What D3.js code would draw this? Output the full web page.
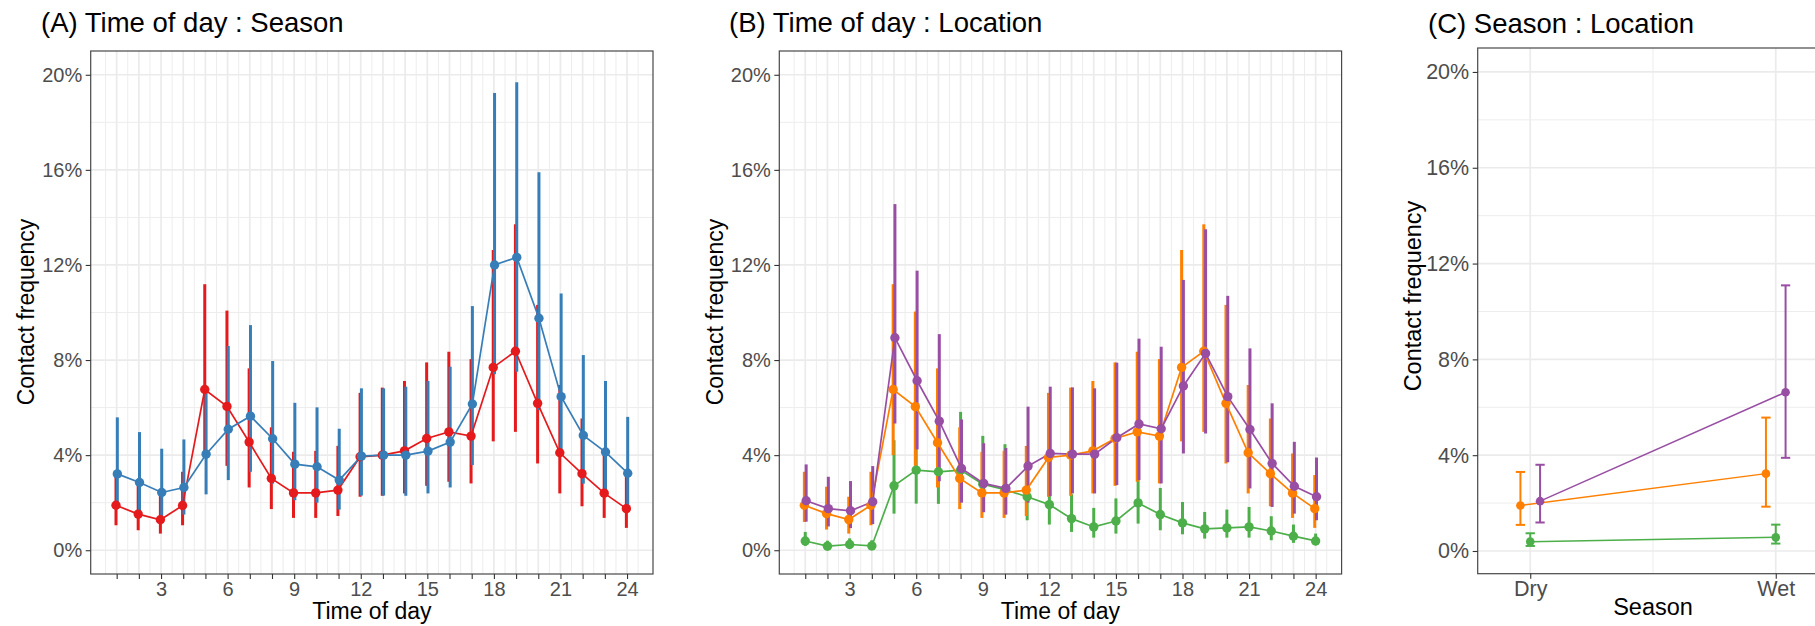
<!DOCTYPE html>
<html>
<head>
<meta charset="utf-8">
<title>Contact frequency by time of day, season and location</title>
<script src="https://cdn.jsdelivr.net/npm/d3@7/dist/d3.min.js"></script>
<style>
  body { margin: 0; background: #fff; }
  svg { display: block; font-family: "Liberation Sans", Arial, Helvetica, sans-serif; }
  .axis .domain { display: none; }
  .axis .tick line { stroke: #333; stroke-width: 1.1; }
  .axis .tick text { fill: #4d4d4d; }
</style>
</head>
<body>
<svg id="chart" width="1815" height="626"></svg>
<script>
// ---- data (percent) ----
const hours = [1, 2, 3, 4, 5, 6, 7, 8, 9, 10, 11, 12, 13, 14, 15, 16, 17, 18, 19, 20, 21, 22, 23, 24];
const hourLabels = ["", "", "3", "", "", "6", "", "", "9", "", "", "12", "", "", "15", "", "", "18", "", "", "21", "", "", "24"];
const yTicks = [0, 4, 8, 12, 16, 20];
const yTickLabels = ["0%", "4%", "8%", "12%", "16%", "20%"];

// (A) season, red = dry, blue = wet
const dryMean = [1.89, 1.52, 1.28, 1.88, 6.76, 6.05, 4.55, 3.02, 2.41, 2.41, 2.53, 3.93, 4.00, 4.18, 4.70, 4.98, 4.80, 7.69, 8.37, 6.18, 4.10, 3.22, 2.40, 1.75];
const dryLow = [1.05, 0.84, 0.70, 1.05, 4.00, 3.55, 2.64, 1.73, 1.36, 1.36, 1.44, 2.25, 2.29, 2.39, 2.71, 2.88, 2.81, 4.58, 4.98, 3.65, 2.39, 1.85, 1.36, 0.94];
const dryHigh = [3.26, 2.72, 2.30, 3.30, 11.19, 10.08, 7.65, 5.17, 4.14, 4.18, 4.39, 6.62, 6.84, 7.12, 7.90, 8.35, 8.04, 12.63, 13.71, 10.32, 6.95, 5.54, 4.07, 3.16];
const wetMean = [3.21, 2.85, 2.43, 2.64, 4.04, 5.09, 5.64, 4.69, 3.62, 3.51, 2.95, 3.96, 4.00, 4.00, 4.17, 4.55, 6.15, 12.00, 12.32, 9.76, 6.46, 4.83, 4.13, 3.24];
const wetLow = [1.80, 1.60, 1.35, 1.50, 2.35, 2.95, 3.30, 2.80, 2.10, 2.00, 1.71, 2.30, 2.30, 2.29, 2.39, 2.64, 3.58, 7.40, 7.51, 5.90, 4.00, 2.80, 2.30, 1.85];
const wetHigh = [5.59, 4.97, 4.27, 4.66, 6.80, 8.59, 9.47, 7.96, 6.20, 6.01, 5.11, 6.81, 6.81, 6.88, 7.12, 7.72, 10.27, 19.23, 19.69, 15.90, 10.80, 8.21, 7.12, 5.61];

// (B) location
const orangeMean = [1.89, 1.54, 1.29, 1.89, 6.76, 6.04, 4.52, 3.02, 2.41, 2.41, 2.53, 3.90, 4.00, 4.18, 4.70, 4.98, 4.80, 7.69, 8.37, 6.18, 4.10, 3.22, 2.40, 1.75];
const orangeLow = [1.19, 0.87, 0.70, 1.05, 4.00, 3.55, 2.64, 1.73, 1.36, 1.36, 1.44, 2.25, 2.29, 2.39, 2.71, 2.88, 2.81, 4.58, 4.98, 3.65, 2.39, 1.85, 1.36, 0.94];
const orangeHigh = [3.30, 2.67, 2.25, 3.30, 11.19, 10.04, 7.65, 5.17, 4.14, 4.18, 4.39, 6.62, 6.84, 7.12, 7.90, 8.35, 8.04, 12.63, 13.71, 10.32, 6.95, 5.54, 4.07, 3.16];
const greenMean = [0.39, 0.17, 0.24, 0.18, 2.71, 3.37, 3.30, 3.37, 2.78, 2.55, 2.25, 1.92, 1.33, 0.98, 1.23, 1.99, 1.50, 1.15, 0.90, 0.94, 0.98, 0.81, 0.59, 0.39];
const greenLow = [0.18, 0.06, 0.09, 0.07, 1.54, 1.96, 1.95, 2.03, 1.60, 1.50, 1.26, 1.08, 0.77, 0.53, 0.70, 1.12, 0.84, 0.67, 0.49, 0.53, 0.53, 0.42, 0.31, 0.21];
const greenHigh = [0.77, 0.40, 0.50, 0.42, 4.63, 4.30, 4.30, 5.82, 4.81, 4.46, 3.50, 3.24, 2.36, 1.78, 2.18, 3.40, 2.62, 2.03, 1.61, 1.71, 1.82, 1.43, 1.08, 0.70];
const purpleMean = [2.08, 1.75, 1.66, 2.04, 8.94, 7.13, 5.43, 3.44, 2.81, 2.60, 3.54, 4.07, 4.04, 4.04, 4.73, 5.31, 5.11, 6.91, 8.28, 6.46, 5.08, 3.65, 2.69, 2.25];
const purpleLow = [1.20, 1.00, 0.93, 1.10, 5.33, 4.24, 2.90, 2.00, 1.60, 1.50, 2.00, 2.27, 2.39, 2.39, 2.74, 2.95, 2.81, 4.07, 4.91, 3.70, 2.60, 1.82, 1.54, 1.26];
const purpleHigh = [3.61, 3.09, 2.91, 3.54, 14.56, 11.76, 9.09, 5.50, 4.50, 4.30, 6.04, 6.88, 6.85, 6.81, 7.89, 8.90, 8.56, 11.37, 13.50, 10.70, 8.49, 6.18, 4.56, 3.90];

// (C) season x location
const seasons = ["Dry", "Wet"];
const orangeSeasonMean = [1.90, 3.23];
const orangeSeasonLow = [1.09, 1.85];
const orangeSeasonHigh = [3.30, 5.57];
const greenSeasonMean = [0.39, 0.57];
const greenSeasonLow = [0.21, 0.31];
const greenSeasonHigh = [0.74, 1.10];
const purpleSeasonMean = [2.08, 6.63];
const purpleSeasonLow = [1.19, 3.89];
const purpleSeasonHigh = [3.60, 11.09];

// colours (Set1)
const red = "#e41a1c", blue = "#377eb8", green = "#4daf4a", purple = "#984ea3", orange = "#ff7f00";

const chart = d3.select("#chart");

function drawPanel(p) {
  const g = chart.append("g");
  const x = d3.scaleLinear().domain(p.xDomain).range([p.left, p.right]);
  const y = d3.scaleLinear().domain(p.yDomain).range([p.bottom, p.top]);

  // grid
  const grid = g.append("g");
  grid.selectAll(".minorX").data(p.xMinor).enter().append("line")
    .attr("x1", d => x(d)).attr("x2", d => x(d))
    .attr("y1", p.top).attr("y2", p.bottom)
    .attr("stroke", "#ededed").attr("stroke-width", 1);
  grid.selectAll(".minorY").data(p.yMinor).enter().append("line")
    .attr("x1", p.left).attr("x2", p.right)
    .attr("y1", d => y(d)).attr("y2", d => y(d))
    .attr("stroke", "#ededed").attr("stroke-width", 1);
  grid.selectAll(".majorX").data(p.xMajor).enter().append("line")
    .attr("x1", d => x(d)).attr("x2", d => x(d))
    .attr("y1", p.top).attr("y2", p.bottom)
    .attr("stroke", "#ebebeb").attr("stroke-width", 1.7);
  grid.selectAll(".majorY").data(yTicks).enter().append("line")
    .attr("x1", p.left).attr("x2", p.right)
    .attr("y1", d => y(d)).attr("y2", d => y(d))
    .attr("stroke", "#ebebeb").attr("stroke-width", 1.7);

  // error bars
  p.series.forEach(function(s) {
    const bars = g.append("g");
    bars.selectAll("line").data(s.mean).enter().append("line")
      .attr("x1", (d, i) => x(p.xValues[i] + s.dodge))
      .attr("x2", (d, i) => x(p.xValues[i] + s.dodge))
      .attr("y1", (d, i) => y(s.low[i]))
      .attr("y2", (d, i) => y(s.high[i]))
      .attr("stroke", s.colour).attr("stroke-width", p.barWidth);
    if (p.capWidth) {
      ["low", "high"].forEach(function(end) {
        bars.selectAll(".cap" + end).data(s[end]).enter().append("line")
          .attr("x1", (d, i) => x(p.xValues[i] + s.dodge) - p.capWidth / 2)
          .attr("x2", (d, i) => x(p.xValues[i] + s.dodge) + p.capWidth / 2)
          .attr("y1", d => y(d)).attr("y2", d => y(d))
          .attr("stroke", s.colour).attr("stroke-width", p.barWidth);
      });
    }
  });

  // lines
  p.series.forEach(function(s) {
    g.append("path")
      .datum(s.mean)
      .attr("fill", "none")
      .attr("stroke", s.colour)
      .attr("stroke-width", p.lineWidth)
      .attr("d", d3.line()
        .x((d, i) => x(p.xValues[i] + s.dodge))
        .y(d => y(d)));
  });

  // points
  p.series.forEach(function(s) {
    g.append("g").selectAll("circle").data(s.mean).enter().append("circle")
      .attr("cx", (d, i) => x(p.xValues[i] + s.dodge))
      .attr("cy", d => y(d))
      .attr("r", p.pointRadius)
      .attr("fill", s.colour);
  });

  // border
  g.append("rect")
    .attr("x", p.left).attr("y", p.top)
    .attr("width", p.right - p.left).attr("height", p.bottom - p.top)
    .attr("fill", "none").attr("stroke", "#484848").attr("stroke-width", 1.2);

  // axes
  const xAxis = d3.axisBottom(x)
    .tickValues(p.xValues)
    .tickFormat((d, i) => p.xLabels[i])
    .tickSize(5).tickPadding(p.xPadding);
  g.append("g").attr("class", "axis")
    .attr("transform", "translate(0," + p.bottom + ")")
    .call(xAxis)
    .selectAll("text").style("font-size", p.tickFont + "px");

  const yAxis = d3.axisLeft(y)
    .tickValues(yTicks)
    .tickFormat((d, i) => yTickLabels[i])
    .tickSize(5).tickPadding(3.5);
  g.append("g").attr("class", "axis")
    .attr("transform", "translate(" + p.left + ",0)")
    .call(yAxis)
    .selectAll("text").style("font-size", p.tickFont + "px");

  // titles
  g.append("text")
    .attr("x", p.titleX).attr("y", p.titleY)
    .style("font-size", "27.5px").attr("fill", "#000")
    .text(p.title);
  g.append("text")
    .attr("x", (p.left + p.right) / 2).attr("y", p.xTitleY)
    .attr("text-anchor", "middle")
    .style("font-size", p.axisFont + "px").attr("fill", "#000")
    .text(p.xTitle);
  g.append("text")
    .attr("transform", "translate(" + p.yTitleX + "," + p.yTitleMid + ") rotate(-90)")
    .attr("text-anchor", "middle")
    .style("font-size", p.axisFont + "px").attr("fill", "#000")
    .text("Contact frequency");
}

const hourMinor = [0.5, 1.5, 2.5, 3.5, 4.5, 5.5, 6.5, 7.5, 8.5, 9.5, 10.5, 11.5, 12.5, 13.5, 14.5, 15.5, 16.5, 17.5, 18.5, 19.5, 20.5, 21.5, 22.5, 23.5, 24.5];
const yMinor = [2, 6, 10, 14, 18];

drawPanel({
  title: "(A) Time of day : Season", titleX: 41, titleY: 31.5,
  left: 90.7, right: 653, top: 51, bottom: 574,
  xDomain: [-0.17, 25.17], yDomain: [-1.0, 21.0],
  xValues: hours, xLabels: hourLabels, xMajor: hours, xMinor: hourMinor, yMinor: yMinor,
  xTitle: "Time of day", xTitleY: 619, yTitleX: 34, yTitleMid: 312,
  tickFont: 20, axisFont: 23, xPadding: 3,
  barWidth: 3, lineWidth: 1.7, pointRadius: 4.7, capWidth: 0,
  series: [
    { colour: red, mean: dryMean, low: dryLow, high: dryHigh, dodge: -0.03 },
    { colour: blue, mean: wetMean, low: wetLow, high: wetHigh, dodge: 0.03 }
  ]
});

drawPanel({
  title: "(B) Time of day : Location", titleX: 729, titleY: 31.5,
  left: 779.3, right: 1341.6, top: 51, bottom: 574,
  xDomain: [-0.17, 25.17], yDomain: [-1.0, 21.0],
  xValues: hours, xLabels: hourLabels, xMajor: hours, xMinor: hourMinor, yMinor: yMinor,
  xTitle: "Time of day", xTitleY: 619, yTitleX: 723, yTitleMid: 312,
  tickFont: 20, axisFont: 23, xPadding: 3,
  barWidth: 3, lineWidth: 1.7, pointRadius: 4.7, capWidth: 0,
  series: [
    { colour: green, mean: greenMean, low: greenLow, high: greenHigh, dodge: 0 },
    { colour: orange, mean: orangeMean, low: orangeLow, high: orangeHigh, dodge: -0.04 },
    { colour: purple, mean: purpleMean, low: purpleLow, high: purpleHigh, dodge: 0.04 }
  ]
});

drawPanel({
  title: "(C) Season : Location", titleX: 1428, titleY: 33,
  left: 1477.7, right: 1828.3, top: 48, bottom: 573.7,
  xDomain: [0.786, 2.214], yDomain: [-0.948, 21.0],
  xValues: [1, 2], xLabels: seasons, xMajor: [1, 2], xMinor: [1.5], yMinor: yMinor,
  xTitle: "Season", xTitleY: 615, yTitleX: 1421, yTitleMid: 296,
  tickFont: 21.5, axisFont: 23.5, xPadding: 2.5,
  barWidth: 2, lineWidth: 1.5, pointRadius: 4.3, capWidth: 9.3,
  series: [
    { colour: green, mean: greenSeasonMean, low: greenSeasonLow, high: greenSeasonHigh, dodge: 0 },
    { colour: orange, mean: orangeSeasonMean, low: orangeSeasonLow, high: orangeSeasonHigh, dodge: -0.04 },
    { colour: purple, mean: purpleSeasonMean, low: purpleSeasonLow, high: purpleSeasonHigh, dodge: 0.04 }
  ]
});
</script>
</body>
</html>
